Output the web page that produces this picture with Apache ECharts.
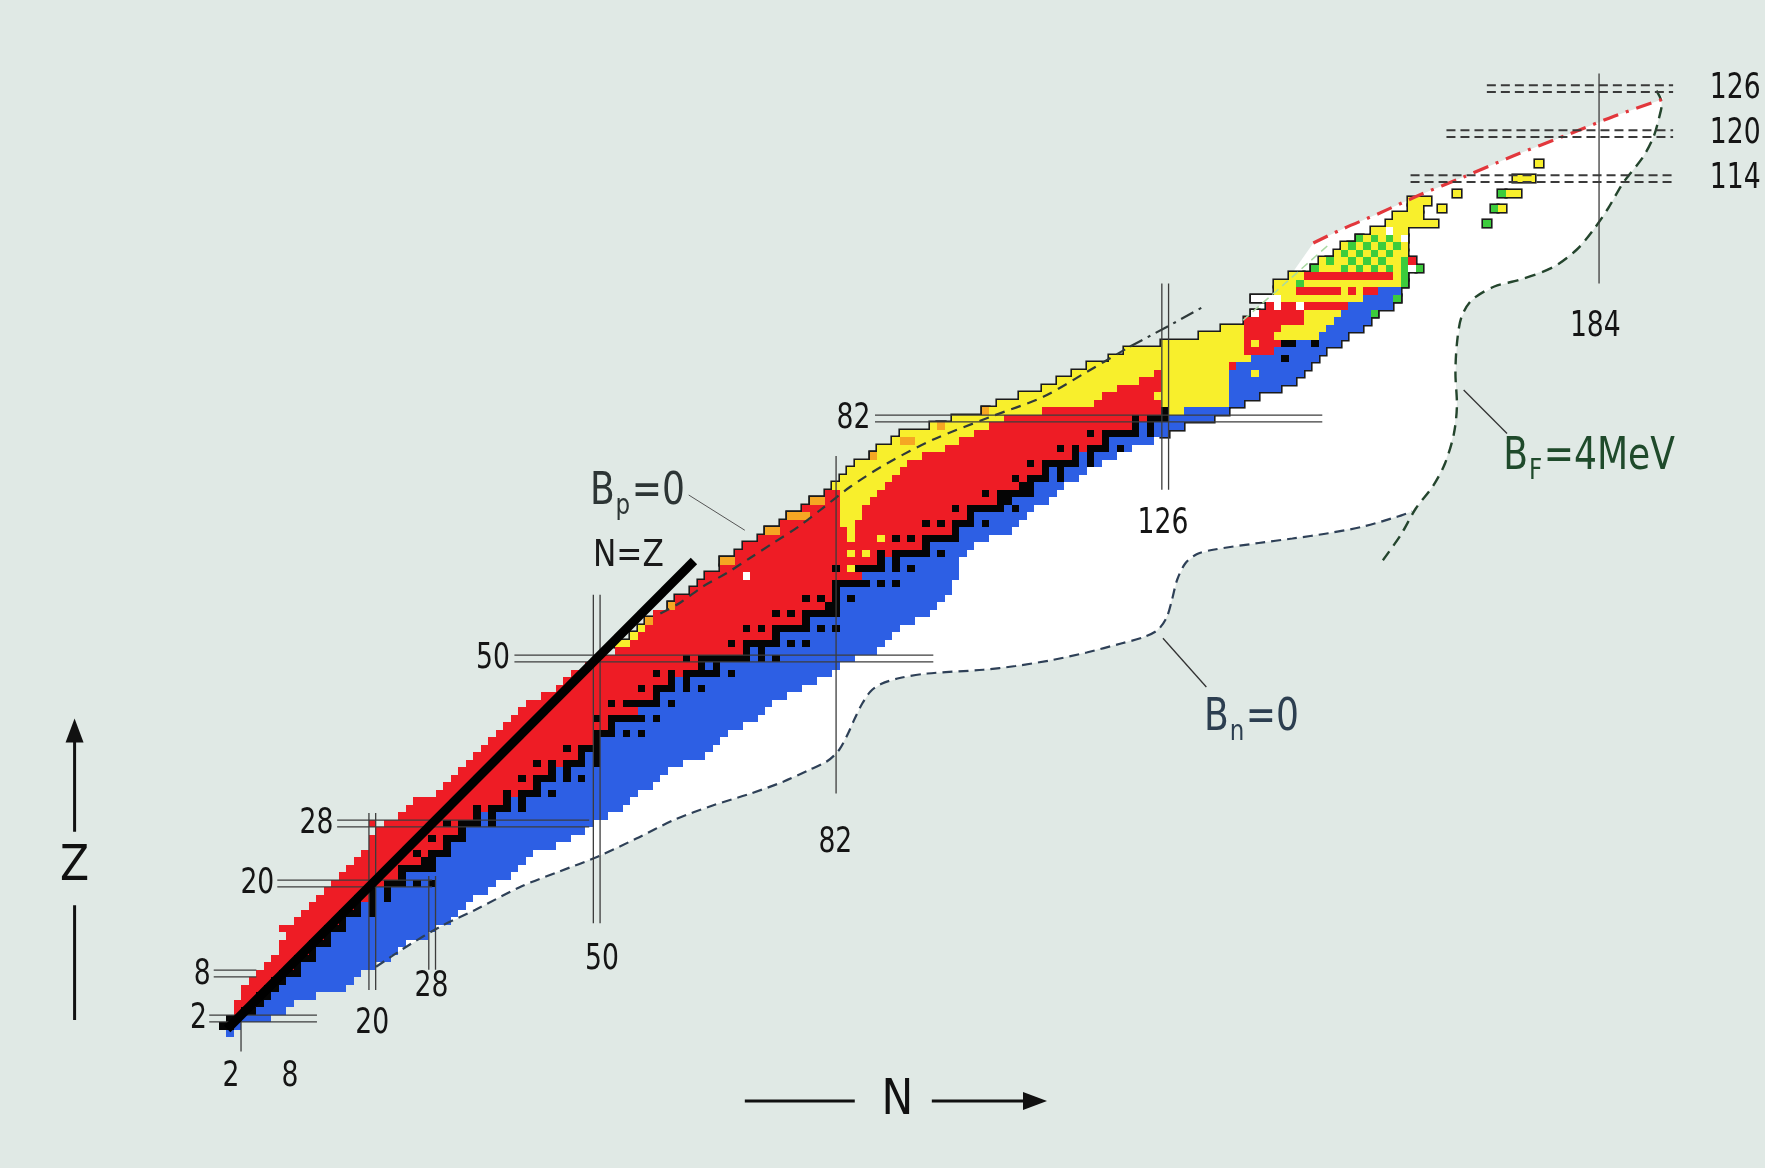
<!DOCTYPE html>
<html><head><meta charset="utf-8">
<script src="https://cdn.jsdelivr.net/npm/echarts@6.0.0/dist/echarts.min.js"></script>
<style>html,body{margin:0;padding:0;background:#e0e9e5;}#chart{width:1765px;height:1168px;}</style>
</head><body><div id="chart"></div>
<script>
// ================= DATA (N = neutron number, Z = proton number) =================
// per Z (index = Z): first known N, last N of proton-rich alpha (yellow) band, first beta- (blue) N, last known N
const nLo = [1,0,1,2,2,3,3,4,5,6, 7,8,8,9,8,10,11,12,13,14, 15,16,17,18,19,20,20,21,22,24,
  25,26,29,30,31,32,33,34,35,36, 37,38,39,40,41,43,45,46,47,49, 50,53,53,55,56,57,58,60,61,63,
  64,65,67,67,69,70,72,73,75,76, 78,79,81,82,83,84,85,87,88,90, 91,95,98,102,104,107,110,112,114,116,
  119,121,126,131,134,137,138,140,138,141, 141,143,146,147,149,150,152,154,156,157,159,159];
const yEnd = [null,null,null,null,null,null,null,null,null,null, null,null,null,null,null,null,null,null,null,null,
  null,null,null,null,null,null,null,null,null,null, null,null,null,null,null,null,null,null,null,null,
  null,null,null,null,null,null,null,null,null,null, null,null,null,null,null,null,null,null,null,null,
  null,null,null,null,null,null,null,null,null,null, null,null,null,88,89,90,91,93,96,98,
  100,102,104,109,116,117,119,122,124,134, 137,136,136,136,136,null,null,null,152,143,
  158,144,158,158,158,158,158,158,162,160,160,161];
const nB = [0,2,3,5,6,7,8,9,11,11, 13,13,15,15,17,17,19,19,20,21, 25,25,29,29,31,31,33,33,35,35,
  39,39,43,43,45,45,49,49,51,51, 53,53,57,56,59,59,61,61,67,65, 71,71,75,75,79,79,83,83,83,83,
  87,86,89,89,95,95,99,99,101,101, 105,106,109,109,111,111,115,115,119,119, 123,123,127,127,135,135,135,135,135,136,
  138,141,144,147,148,149,150,151,153,155, 159,159,159,159,159,159,159,159,163,161,161,162];
const nHi = [1,2,6,8,9,12,16,17,18,20, 22,23,24,27,28,30,31,32,33,35, 36,38,39,40,41,44,46,48,49,51,
  53,54,55,57,58,59,61,64,65,66, 67,69,71,72,73,75,77,79,81,82, 84,87,88,89,90,92,94,95,96,97,
  97,98,98,98,99,100,102,105,106,107, 108,110,111,112,114,115,117,119,121,124, 126,128,132,134,136,138,141,143,144,145,
  146,147,149,150,152,153,154,156,157,157, 158,158,158,158,158,158,158,158,162,160,160,161];

// stable nuclides: [Z, [N...]]
const stable = [[1,[0,1]],[2,[1,2]],[3,[3,4]],[4,[5]],[5,[5,6]],[6,[6,7]],[7,[7,8]],[8,[8,9,10]],[9,[10]],
  [10,[10,11,12]],[11,[12]],[12,[12,13,14]],[13,[14]],[14,[14,15,16]],[15,[16]],[16,[16,17,18,20]],[17,[18,20]],
  [18,[18,20,22]],[19,[20,22]],[20,[20,22,23,24,26,28]],[21,[24]],[22,[24,25,26,27,28]],[23,[27,28]],
  [24,[26,28,29,30]],[25,[30]],[26,[28,30,31,32]],[27,[32]],[28,[30,32,33,34,36]],[29,[34,36]],
  [30,[34,36,37,38,40]],[31,[38,40]],[32,[38,40,41,42,44]],[33,[42]],[34,[40,42,43,44,46,48]],[35,[44,46]],
  [36,[42,44,46,47,48,50]],[37,[48,50]],[38,[46,48,49,50]],[39,[50]],[40,[50,51,52,54,56]],[41,[52]],
  [42,[50,52,53,54,55,56,58]],[44,[52,54,55,56,57,58,60]],[45,[58]],[46,[56,58,59,60,62,64]],[47,[60,62]],
  [48,[58,60,62,63,64,65,66,68]],[49,[64,66]],[50,[62,64,65,66,67,68,69,70,72,74]],[51,[70,72]],
  [52,[68,70,71,72,73,74,76,78]],[53,[74]],[54,[70,72,74,75,76,77,78,80,82]],[55,[78]],[56,[74,76,78,79,80,81,82]],
  [57,[81,82]],[58,[78,80,82,84]],[59,[82]],[60,[82,83,84,85,86,88,90]],[62,[82,85,86,87,88,90,92]],[63,[88,90]],
  [64,[88,90,91,92,93,94,96]],[65,[94]],[66,[90,92,94,95,96,97,98]],[67,[98]],[68,[94,96,98,99,100,102]],[69,[100]],
  [70,[98,100,101,102,103,104,106]],[71,[104,105]],[72,[102,104,105,106,107,108]],[73,[107,108]],
  [74,[106,108,109,110,112]],[75,[110,112]],[76,[108,110,111,112,113,114,116]],[77,[114,116]],
  [78,[112,114,116,117,118,120]],[79,[118]],[80,[116,118,119,120,121,122,124]],[81,[122,124]],
  [82,[122,124,125,126]],[83,[126]],[90,[142]],[92,[142,143,146]]];

// extra decay-mode cells / segments: [Z, Nfirst, Nlast]
const alphaSegs = [[52,53,54],[53,55,55],[54,56,56],[62,84,84],[64,84,84],[64,86,86],[66,84,84],[66,88,88],
  [67,84,84],[68,83,84],[69,83,85],[70,83,85],[71,83,86],[72,83,87],
  [83,127,128],[84,126,134],[85,126,134],[86,126,134],[87,126,134],[88,126,134],[85,125,125],[88,138,138],[92,138,138],
  [93,141,146],[94,142,147],[95,145,148],[96,145,149],[99,150,150],[99,152,152],[101,157,157],
  [110,163,163],[110,171,171],[112,165,165],[112,172,173],[114,173,175],[116,176,176]];
const ecSegs = [[28,20,20],[103,159,159]];
const fissionSegs = [[100,144,144],[100,158,158],[101,158,158],[102,146,146],[102,150,150],[102,152,152],[102,154,154],
  [102,156,156],[102,158,158],[102,160,160],[103,148,148],[103,151,151],[103,153,153],[103,155,155],[103,158,158],
  [104,150,150],[104,152,152],[104,154,154],[104,156,156],[105,151,151],[105,153,153],[105,155,155],[105,157,157],
  [106,152,152],[106,154,154],[106,156,156],[108,169,169],[110,170,170],[112,171,171],[96,154,154],[98,157,157]];
const unknownSegs = [[61,70,70],[96,138,138],[97,141,141],[97,144,144],[98,138,141],[102,159,159],[107,156,156],[106,158,158]];
const protonSegs = [[55,57,57],[57,60,60],[63,67,68],[67,73,74],[69,76,78],[71,79,80],[77,87,87],[79,91,92],[81,96,96],[83,102,102]];

// magic numbers (tick labels)
const zMagic = [2,8,20,28,50,82,114,120,126];
const nMagic = [2,8,20,28,50,82,126,184];

// drip / fission lines: [N, Z]
const bnLine = [[20.5,8.9],[24.6,11.6],[29,14.2],[33.8,16.5],[39.9,19.6],[45,21.6],[50.2,23.6],[55.3,26],[60.4,28.5],
  [65.5,30.4],[70.6,32],[75,33.6],[78.3,35.1],[80.8,36.3],[82.4,37.8],[83.6,40],[84.5,42],[85.5,44],[86.6,45.6],[88,46.6],
  [90.5,47.4],[94.2,48],[101.7,48.5],[106,49],[110.9,49.8],[115.5,50.8],[120.1,52],[123,52.8],[125,53.8],[126.2,55.5],
  [126.9,57.8],[127.6,60.5],[128.7,62.7],[130.2,63.9],[132.4,64.5],[138.5,65.4],[143,66],[147.8,66.7],[152.5,67.6],[157,68.9],[159,69.6]];
const bfLine = [[155.1,63.1],[157.5,66.5],[159.5,70],[161.8,73],[163.4,76],[164.6,80],[165,84],[164.8,88],[165,92],
  [165.6,95.5],[167,97.8],[170,99.6],[173.4,100.5],[177.9,102.2],[181,104.5],[183.2,107.1],[185.2,110],[187.2,113.4],
  [189.9,116.9],[191.3,119.6],[192,122],[192.4,124],[191.5,126]];
const bpLine = [[58.5,56],[61.1,57.4],[64.2,59.6],[67.4,61.4],[70.5,63.4],[73.6,65.4],[77,67.6],[79.9,69.8],[83.9,72.9],
  [88.8,76],[95,79.2],[102.6,82.2],[109.7,84.9],[115.5,88.2],[121.3,91.6]];
const bpLineEnd = [[121.3,91.6],[126.2,94.2],[131.1,96.9]];
const shLine = [[145.8,105.4],[150,107.4],[154.7,109.4],[160,111.8],[165.9,114.2],[172.5,117],[179.7,119.8],[186,122.3],[192.6,124.6]];
const faintLine = [[136.4,95.1],[142,100],[148,105.3]];
const bandInner = [[142,100],[136.4,95.1],[130,88],[120,78],[92,62],[82,50],[60,38],[40,24],[22,12]];

// ================= BUILD =================
const FONT = '"DejaVu Sans",sans-serif';
const CODES = ['r','b','y','o','g','w','k'];
const COLORS = {r:'#ee1c25', b:'#2d5fe4', y:'#f8ef2c', o:'#f5a623', g:'#3ccc3c', w:'#ffffff', k:'#050505'};

const segs = [];
function add(z,n0,n1,c){ if(n1>=n0) segs.push([n0,z,n1,CODES.indexOf(c)]); }
for(let z=0; z<nLo.length; z++){
  const lo=nLo[z], hi=nHi[z], b=nB[z], ye=yEnd[z];
  let s=lo;
  if(ye!=null){ add(z,lo,Math.min(ye,hi),'y'); s=ye+1; }
  add(z,s,Math.min(b-1,hi),'r');
  add(z,Math.max(b,s),hi,'b');
}
alphaSegs.forEach(a=>add(a[0],a[1],a[2],'y'));
ecSegs.forEach(a=>add(a[0],a[1],a[2],'r'));
fissionSegs.forEach(a=>add(a[0],a[1],a[2],'g'));
unknownSegs.forEach(a=>add(a[0],a[1],a[2],'w'));
protonSegs.forEach(a=>add(a[0],a[1],a[2],'o'));
stable.forEach(([z,ns])=>ns.forEach(n=>add(z,n,n,'k')));

const outl = [];
segs.forEach(([n0,z,n1,ci])=>{
  const c = CODES[ci];
  if('yogw'.includes(c) || (c==='r' && z>=57)) outl.push([n0,z,n1]);
  else if(c==='b' && n1>=126) outl.push([Math.max(n0,126),z,n1]);
});

function rectOf(api, z, n0, n1, pad){
  const p0 = api.coord([n0-0.5, z+0.5]), p1 = api.coord([n1+0.5, z-0.5]);
  const x0=Math.round(p0[0]), y0=Math.round(p0[1]), x1=Math.round(p1[0]), y1=Math.round(p1[1]);
  return {x:x0-pad, y:y0-pad, width:x1-x0+2*pad, height:y1-y0+2*pad};
}

// white predicted region polygon
const whitePoly = bnLine.concat(bfLine.filter(p=>p[1]>=69.6), shLine.slice().reverse(), bandInner);

// straight strokes (magic-number lines, leaders, axis arrows)
const ZL = {2:[-1.8,12.6],8:[-1.2,4.5],20:[7.3,28],28:[15.3,49],50:[39,95],82:[87.2,147],114:[158.8,193.9],120:[163.6,193.9],126:[169,193.9]};
const NL = {2:[-2.4,2.2],20:[5.8,29.4],28:[8.5,21],50:[14.7,58.5],82:[32,77],126:[72.5,100],184:[100,128]};
const strokes = [];
zMagic.forEach(z=>{ const e=ZL[z]; if(!e) return; const dashed = z>=114;
  [-0.45,0.45].forEach(d=>strokes.push({p:[e[0],z+d,e[1],z+d], w:dashed?2:1.3, c:dashed?'#3a3a3a':'#3c3c3c', d:dashed?[9,5]:null}));
});
nMagic.forEach(n=>{ const e=NL[n]; if(!e) return; const single = (n===82||n===184||n===2);
  (single?[n===2?0.45:0]:[-0.45,0.45]).forEach(d=>strokes.push({p:[n+d,e[0],n+d,e[1]], w:1.3, c:'#3c3c3c', d:null}));
});
strokes.push({p:[0.6,0.6,63,63], w:9, c:'#000', d:null, cap:'butt'});           // N = Z
strokes.push({p:[62.3,71.8,69.8,67.1], w:1, c:'#555', d:null});                  // Bp leader
strokes.push({p:[125.7,52.7,131.5,46.2], w:1.3, c:'#333', d:null});             // Bn leader
strokes.push({p:[165.9,85.8,171.7,80], w:1.3, c:'#333', d:null});               // BF leader
strokes.push({p:[-19.8,26.9,-19.8,39.5], w:3, c:'#111', d:null});               // Z arrow
strokes.push({p:[-19.8,1.8,-19.8,17.1], w:3, c:'#111', d:null});
strokes.push({p:[69.8,-9,84.5,-9], w:3, c:'#111', d:null});                     // N arrow
strokes.push({p:[94.8,-9,107.6,-9], w:3, c:'#111', d:null});

const arrows = [{tip:[-19.8,42], dir:'up'},{tip:[110.2,-9], dir:'right'}];

// text labels
const zLabPos = {2:[-2.1,2,'right'],8:[-1.6,7.8,'right'],20:[6.9,20,'right'],28:[14.8,28,'right'],50:[38.4,50,'right'],82:[86.6,82,'right'],
  114:[198.8,114,'left'],120:[198.8,120,'left'],126:[198.8,126,'left']};
const nLabPos = {2:[1.1,-5.8],8:[9,-5.8],20:[20,1.3],28:[27.9,6.2],50:[50.7,9.8],82:[81.9,25.4],126:[125.7,68],184:[183.5,94.3]};
const texts = [];
zMagic.forEach(z=>{ const L=zLabPos[z]; texts.push({n:L[0], z:L[1], t:String(z), size:36, sx:0.74, align:L[2], c:'#151515'}); });
nMagic.forEach(n=>{ const L=nLabPos[n]; texts.push({n:L[0], z:L[1], t:String(n), size:36, sx:0.74, align:'center', c:'#151515'}); });
texts.push({n:-19.8, z:22.2, t:'Z', size:50, sx:0.85, align:'center', c:'#111'});
texts.push({n:90.2, z:-9, t:'N', size:50, sx:0.85, align:'center', c:'#111'});
texts.push({n:49.5, z:63.6, t:'N=Z', size:38, sx:0.82, align:'left', c:'#1a1a1a'});
texts.push({n:49.1, z:72.1, t:'B', sub:'p', rest:'=0', size:44, sx:0.82, align:'left', c:'#2d3535'});
texts.push({n:131.2, z:42, t:'B', sub:'n', rest:'=0', size:44, sx:0.82, align:'left', c:'#2c3e50'});
texts.push({n:171.2, z:76.8, t:'B', sub:'F', rest:'=4MeV', size:44, sx:0.82, align:'left', c:'#1f4a2b'});

const mctx = document.createElement('canvas').getContext('2d');
function tw(t,size){ mctx.font = size+'px '+FONT; return mctx.measureText(t).width; }

function curve(data,color,width,dash,smooth){
  return {type:'line', data, symbol:'none', showSymbol:false, smooth:smooth, clip:false, silent:true, z:5,
    lineStyle:{color, width, type:dash, cap:'butt'}};
}

const chart = echarts.init(document.getElementById('chart'), null, {renderer:'canvas'});
chart.setOption({
  backgroundColor:'#e0e9e5',
  animation:false,
  grid:{left:207.74, top:58.5, width:1548.4, height:990},
  xAxis:{type:'value', min:-2, max:205, show:false},
  yAxis:{type:'value', min:-2, max:130, show:false},
  series:[
    {type:'custom', z:1, silent:true, data:[[100,60]], renderItem:(p,api)=>({
      type:'polygon', shape:{points:whitePoly.map(q=>api.coord(q))}, style:{fill:'#ffffff'}})},
    {type:'custom', z:2, silent:true, data:outl, renderItem:(p,api)=>({
      type:'rect', shape:rectOf(api, api.value(1), api.value(0), api.value(2), 1.6), style:{fill:'#1b1b1b'}})},
    {type:'custom', z:3, silent:true, data:segs, renderItem:(p,api)=>({
      type:'rect', shape:rectOf(api, api.value(1), api.value(0), api.value(2), 0), style:{fill:COLORS[CODES[api.value(3)]]}})},
    curve(faintLine,'#a9d9a2',1.5,[8,5],0.3),
    curve(bnLine,'#2e4057',2.2,[10,6],0.3),
    curve(bfLine,'#24452d',2.4,[11,7],0.3),
    curve(bpLine,'#2f3a3a',2.2,[10,7],0.3),
    curve(bpLineEnd,'#2f3a3a',2.2,[14,6,3,6],0),
    curve(shLine,'#e2373c',3.2,[16,8,3,8],0.3),
    {type:'custom', z:6, silent:true, data:strokes.map((s,i)=>[s.p[0],s.p[1],s.p[2],s.p[3],i]), renderItem:(p,api)=>{
      const s = strokes[api.value(4)];
      const a = api.coord([api.value(0),api.value(1)]), b = api.coord([api.value(2),api.value(3)]);
      return {type:'line', shape:{x1:a[0],y1:a[1],x2:b[0],y2:b[1]},
        style:{stroke:s.c, lineWidth:s.w, lineDash:s.d||null, lineCap:s.cap||'butt'}};
    }},
    {type:'custom', z:6, silent:true, data:arrows.map((a,i)=>[a.tip[0],a.tip[1],i]), renderItem:(p,api)=>{
      const t = api.coord([api.value(0),api.value(1)]); const up = arrows[api.value(2)].dir==='up';
      const pts = up ? [[t[0],t[1]],[t[0]-9,t[1]+24],[t[0]+9,t[1]+24]] : [[t[0],t[1]],[t[0]-24,t[1]-9],[t[0]-24,t[1]+9]];
      return {type:'polygon', shape:{points:pts}, style:{fill:'#111'}};
    }},
    {type:'custom', z:7, silent:true, data:texts.map((t,i)=>[t.n,t.z,i]), renderItem:(p,api)=>{
      const T = texts[api.value(2)]; const c = api.coord([api.value(0),api.value(1)]);
      if(!T.sub){
        return {type:'text', x:c[0], y:c[1], scaleX:T.sx, style:{text:T.t, fill:T.c, fontSize:T.size, fontFamily:FONT, align:T.align, verticalAlign:'middle'}};
      }
      const ss = Math.round(T.size*0.64);
      const w1 = tw(T.t,T.size), w2 = tw(T.sub,ss);
      return {type:'group', x:c[0], y:c[1], scaleX:T.sx, children:[
        {type:'text', x:0, y:0, style:{text:T.t, fill:T.c, fontSize:T.size, fontFamily:FONT, align:'left', verticalAlign:'middle'}},
        {type:'text', x:w1+1, y:14, style:{text:T.sub, fill:T.c, fontSize:ss, fontFamily:FONT, align:'left', verticalAlign:'middle'}},
        {type:'text', x:w1+w2+3, y:0, style:{text:T.rest, fill:T.c, fontSize:T.size, fontFamily:FONT, align:'left', verticalAlign:'middle'}}
      ]};
    }}
  ]
});
</script></body></html>
